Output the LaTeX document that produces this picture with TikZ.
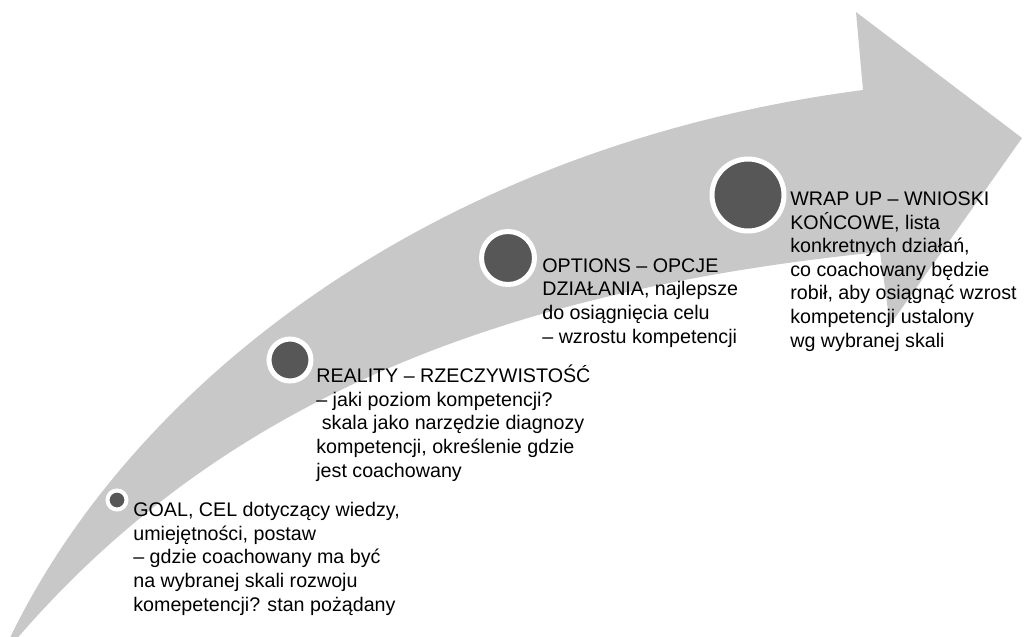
\documentclass[tikz,border=0pt]{standalone}
\usepackage{fontspec}
\setmainfont{Liberation Sans}
\usepackage{tikz}
\definecolor{arrowgray}{HTML}{C8C8C8}
\definecolor{dotgray}{HTML}{575757}
\tikzset{
	stagedot/.style={circle, fill=dotgray, draw=white, line width=0.1cm, inner sep=0pt},
	stagetext/.style={anchor=base west, align=left, inner sep=0pt, font=\fontsize{11.2}{13.4}\selectfont}
}

\begin{document}
\begin{tikzpicture}[x=0.02cm,y=-0.02cm]

	\useasboundingbox (0,0) rectangle (1024,636);
	\clip (0,0) rectangle (1024,636);

	% the big curved arrow
	\fill[arrowgray] (8,642) .. controls (130,385) and (433,146) .. (863,90)
		-- (856,12) -- (1022,138) -- (890,325) -- (880,252)
		.. controls (480,292) and (210,413) .. (14,642) -- cycle;

	% stages along the arrow
	\node[stagedot, minimum size=0.38cm, line width=0.08cm] (goal) at (117,500) {};
	\node[stagedot, minimum size=0.84cm] (reality) at (290,360) {};
	\node[stagedot, minimum size=1.06cm] (options) at (508,258) {};
	\node[stagedot, minimum size=1.44cm] (wrapup) at (748,195) {};

	% base anchor sits on the last line
	\node[stagetext] (goaltext) at (133,611) {GOAL, CEL dotyczący wiedzy,\\umiejętności, postaw\\– gdzie coachowany ma być\\na wybranej skali rozwoju\\komepetencji? stan pożądany};
	\node[stagetext] (realitytext) at (316,477) {REALITY – RZECZYWISTOŚĆ\\– jaki poziom kompetencji?\\\ skala jako narzędzie diagnozy\\kompetencji, określenie gdzie\\jest coachowany};
	\node[stagetext] (optionstext) at (542,343) {OPTIONS – OPCJE\\DZIAŁANIA, najlepsze\\do osiągnięcia celu\\– wzrostu kompetencji};
	\node[stagetext] (wrapuptext) at (790,347) {WRAP UP – WNIOSKI\\KOŃCOWE, lista\\konkretnych działań,\\co coachowany będzie\\robił, aby osiągnąć wzrost\\kompetencji ustalony\\wg wybranej skali};

\end{tikzpicture}
\end{document}
